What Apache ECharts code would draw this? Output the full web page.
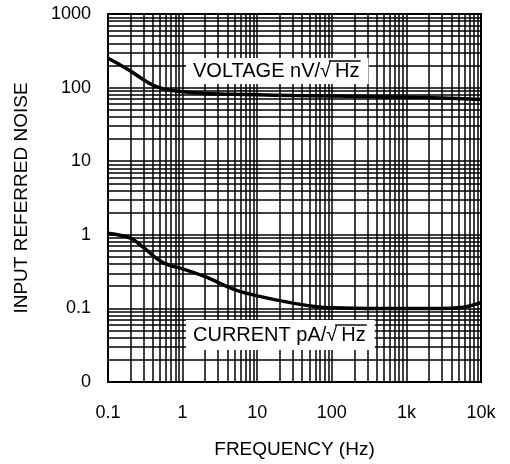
<!DOCTYPE html>
<html><head><meta charset="utf-8">
<script src="https://cdn.jsdelivr.net/npm/echarts@6/dist/echarts.min.js"></script>
<style>html,body{margin:0;padding:0;background:#fff}#c{width:510px;height:464px}</style>
</head><body><div id="c"></div>
<script>
// ---- data ----
const xTicks = [0.1, 1, 10, 100, 1000, 10000];
const xTickLabels = ['0.1', '1', '10', '100', '1k', '10k'];
const yTicks = [0.01, 0.1, 1, 10, 100, 1000];
const yTickLabels = ['0', '0.1', '1', '10', '100', '1000'];
const freqVoltage = [0.1, 0.15, 0.2, 0.3, 0.4, 0.5, 0.7, 1, 2, 5, 10, 30, 100, 300, 1000, 3000, 10000];
const voltage =     [250, 200, 168, 128, 108, 99, 92, 88, 83, 81, 80, 78, 77, 75.5, 74, 72, 69];
const freqCurrent = [0.1, 0.2, 0.3, 0.5, 0.7, 1, 2, 5, 10, 30, 70, 100, 300, 1000, 3000, 5000, 7000, 10000];
const current =     [1.05, 0.9, 0.67, 0.44, 0.38, 0.345, 0.27, 0.18, 0.148, 0.118, 0.104, 0.102, 0.1, 0.1, 0.1, 0.102, 0.108, 0.12];
const voltageLabel = 'VOLTAGE nV/';
const currentLabel = 'CURRENT pA/';
const xTitle = 'FREQUENCY (Hz)';
const yTitle = 'INPUT REFERRED NOISE';

// ---- helpers ----
const FAM = '"Liberation Sans", Arial, Helvetica, sans-serif';
function lbl(ticks, labels) {
  return v => {
    const i = ticks.findIndex(t => Math.abs(Math.log10(t) - Math.log10(v)) < 1e-6);
    return i >= 0 ? labels[i] : '';
  };
}
function minorValues(ticks) {
  const out = [];
  for (let d = 0; d < ticks.length - 1; d++)
    for (let k = 2; k <= 9; k++) out.push(ticks[d] * k);
  return out;
}
function measure(t, font) {
  const c = document.createElement('canvas').getContext('2d');
  c.font = font; return c.measureText(t).width;
}
function unitLabel(prefix, x, y, boxH) {
  const fs = 20, font = fs + 'px ' + FAM;
  const w1 = measure(prefix + '√', font);
  const wr = measure('√', font);
  const w2 = measure('Hz', font);
  const gap = 4;
  const vy = y - fs * 0.5;
  const boxW = w1 + gap + w2 + 16;
  return {
    type: 'group', z: 100,
    children: [
      { type: 'rect', z: 100, shape: { x: x - 7, y: y - boxH / 2, width: boxW, height: boxH }, style: { fill: '#fff' } },
      { type: 'text', z: 101, x: x, y: y, style: { text: prefix + '√', font: font, fill: '#000', verticalAlign: 'middle', textVerticalAlign: 'middle' } },
      { type: 'text', z: 101, x: x + w1 + gap, y: y, style: { text: 'Hz', font: font, fill: '#000', verticalAlign: 'middle', textVerticalAlign: 'middle' } },
      { type: 'line', z: 101, shape: { x1: x + w1 - wr * 0.2, y1: vy, x2: x + w1 + gap + w2 + 1, y2: vy }, style: { stroke: '#000', lineWidth: 1.4 } }
    ]
  };
}

const chart = echarts.init(document.getElementById('c'), null, { renderer: 'canvas' });
const gridLine = { color: '#000', width: 1.5, type: 'solid' };
chart.setOption({
  animation: false,
  backgroundColor: '#fff',
  grid: { left: 108, top: 14, width: 373, height: 372, show: true, borderColor: '#000', borderWidth: 2, backgroundColor: 'transparent' },
  xAxis: {
    type: 'log', logBase: 10, min: xTicks[0], max: xTicks[xTicks.length - 1], interval: 1,
    name: xTitle, nameLocation: 'middle', nameGap: 58,
    nameTextStyle: { fontFamily: FAM, fontSize: 19, color: '#000' },
    axisLine: { show: false }, axisTick: { show: false },
    axisLabel: { formatter: lbl(xTicks, xTickLabels), fontFamily: FAM, fontSize: 18, color: '#000', margin: 22 },
    splitLine: { show: true, lineStyle: gridLine }
  },
  yAxis: {
    type: 'log', logBase: 10, min: yTicks[0], max: yTicks[yTicks.length - 1], interval: 1,
    name: yTitle, nameLocation: 'middle', nameGap: 77,
    nameTextStyle: { fontFamily: FAM, fontSize: 19, color: '#000' },
    axisLine: { show: false }, axisTick: { show: false },
    axisLabel: { formatter: lbl(yTicks, yTickLabels), fontFamily: FAM, fontSize: 18, color: '#000', margin: 17 },
    splitLine: { show: true, lineStyle: gridLine }
  },
  series: [
    {
      type: 'line', data: [], z: 1, silent: true,
      markLine: {
        silent: true, symbol: ['none', 'none'], label: { show: false }, animation: false,
        lineStyle: gridLine, emphasis: { disabled: true },
        data: minorValues(xTicks).map(v => ({ xAxis: v })).concat(minorValues(yTicks).map(v => ({ yAxis: v })))
      }
    },
    {
      name: 'voltage', type: 'line', z: 5, smooth: 0.35, showSymbol: false, silent: true,
      data: freqVoltage.map((f, i) => [f, voltage[i]]),
      lineStyle: { color: '#000', width: 3.5 }
    },
    {
      name: 'current', type: 'line', z: 5, smooth: 0.35, showSymbol: false, silent: true,
      data: freqCurrent.map((f, i) => [f, current[i]]),
      lineStyle: { color: '#000', width: 3.5 }
    }
  ],
  graphic: [
    unitLabel(voltageLabel, 193, 71, 26),
    unitLabel(currentLabel, 193, 335, 30)
  ]
});
</script></body></html>
